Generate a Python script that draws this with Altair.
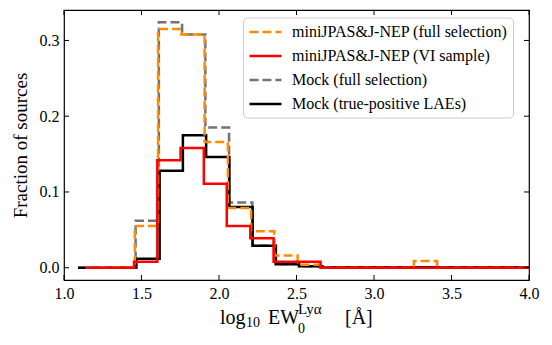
import altair as alt
import pandas as pd

# ---- data ----
series_names = [
    "miniJPAS&J-NEP (full selection)",
    "miniJPAS&J-NEP (VI sample)",
    "Mock (full selection)",
    "Mock (true-positive LAEs)",
]

# step edges (left edges + final right edge) and bin values
orange_edges = [1.14, 1.457, 1.607, 1.757, 1.907, 2.057, 2.207, 2.357, 2.507, 2.657, 3.257, 3.407, 4.0]
orange_vals = [0.0, 0.055, 0.315, 0.308, 0.166, 0.079, 0.048, 0.016, 0.004, 0.0, 0.009, 0.0]

red_edges = [1.14, 1.452, 1.602, 1.752, 1.902, 2.050, 2.202, 2.352, 2.655, 4.0]
red_vals = [0.0, 0.008, 0.142, 0.158, 0.111, 0.055, 0.039, 0.008, 0.0]

gray_edges = [1.09, 1.462, 1.612, 1.762, 1.912, 2.065, 2.215, 2.365, 2.515, 2.665, 4.0]
gray_vals = [0.0, 0.062, 0.324, 0.308, 0.185, 0.086, 0.029, 0.005, 0.002, 0.0005]

black_edges = [1.09, 1.467, 1.617, 1.767, 1.917, 2.067, 2.217, 2.367, 2.517, 2.667, 4.0]
black_vals = [0.0, 0.012, 0.128, 0.175, 0.146, 0.080, 0.029, 0.0045, 0.002, 0.0005]

x_ticks = [1.0, 1.5, 2.0, 2.5, 3.0, 3.5, 4.0]
y_ticks = [0.0, 0.1, 0.2, 0.3]

colors = ["#ff8c00", "#ff0000", "#737373", "#000000"]
dashes = [[9, 4], [1, 0], [9, 4], [1, 0]]

title_parts = ["log", "10", "EW", "0", "Lyα", "[Å]"]

W, H = 465, 270
FONT = "Liberation Serif"


def step_frame(name, edges, vals):
    xs = list(edges)
    ys = list(vals) + [vals[-1]]
    return pd.DataFrame({"x": xs, "y": ys, "series": name})


xscale = alt.Scale(domain=[1.0, 4.0], nice=False, zero=False)
yscale = alt.Scale(domain=[-0.0162, 0.3402], nice=False, zero=False)
cscale = alt.Scale(domain=series_names, range=colors)
dscale = alt.Scale(domain=series_names, range=dashes)

xaxis = alt.Axis(
    values=x_ticks, format=".1f", title=None, grid=False, ticks=False,
    domain=False, labelPadding=5, labelFlush=False, labelOverlap=False,
)
yaxis = alt.Axis(
    values=y_ticks, format=".1f", title="Fraction of sources", grid=False,
    ticks=False, domain=False, labelPadding=5, titlePadding=9,
)

legend = alt.Legend(title=None, orient="none", legendX=179, legendY=7.5)


def line_layer(df):
    return alt.Chart(df).mark_line(interpolate="step-after", strokeWidth=2.5, clip=True).encode(
        x=alt.X("x:Q", scale=xscale, axis=xaxis),
        y=alt.Y("y:Q", scale=yscale, axis=yaxis),
        color=alt.Color("series:N", scale=cscale, legend=legend),
        strokeDash=alt.StrokeDash("series:N", scale=dscale, legend=legend),
    )


gray = line_layer(step_frame(series_names[2], gray_edges, gray_vals))
black = line_layer(step_frame(series_names[3], black_edges, black_vals))
orange = line_layer(step_frame(series_names[0], orange_edges, orange_vals))
red = line_layer(step_frame(series_names[1], red_edges, red_vals))

xt = pd.DataFrame({"x": x_ticks})
yt = pd.DataFrame({"y": y_ticks})
tick_style = dict(color="black", strokeWidth=1)
xt_bottom = alt.Chart(xt).mark_rule(**tick_style).encode(
    x=alt.X("x:Q", scale=xscale, axis=xaxis), y=alt.value(H), y2=alt.value(H - 5))
xt_top = alt.Chart(xt).mark_rule(**tick_style).encode(
    x=alt.X("x:Q", scale=xscale, axis=xaxis), y=alt.value(0), y2=alt.value(5))
yt_left = alt.Chart(yt).mark_rule(**tick_style).encode(
    y=alt.Y("y:Q", scale=yscale, axis=yaxis), x=alt.value(0), x2=alt.value(5))
yt_right = alt.Chart(yt).mark_rule(**tick_style).encode(
    y=alt.Y("y:Q", scale=yscale, axis=yaxis), x=alt.value(W), x2=alt.value(W - 5))


def txt(s, px, py, size):
    return alt.Chart(pd.DataFrame({"t": [s]})).mark_text(
        font=FONT, fontSize=size, align="left", baseline="alphabetic", color="black"
    ).encode(text="t:N", x=alt.value(px), y=alt.value(py))


base_y = H + 44
title_layers = [
    txt(title_parts[0], 156, base_y, 20),
    txt(title_parts[1], 182, base_y + 3, 14),
    txt(title_parts[2], 204, base_y, 20),
    txt(title_parts[3], 234, base_y + 9, 14),
    txt(title_parts[4], 234, base_y - 10, 15),
    txt(title_parts[5], 281, base_y, 20),
]

chart = alt.layer(
    gray, black, orange, red, xt_bottom, xt_top, yt_left, yt_right, *title_layers
).properties(
    width=W, height=H,
    autosize=alt.AutoSizeParams(type="none"),
    padding={"left": 56, "top": 2, "right": 14, "bottom": 57},
    background="white",
).configure_view(
    stroke="black", strokeWidth=1.2
).configure_axis(
    labelFont=FONT, labelFontSize=16, labelColor="black",
    titleFont=FONT, titleFontSize=19, titleFontWeight="normal", titleColor="black",
).configure_legend(
    symbolType="M-1,0H3",
    symbolSize=256,
    symbolStrokeWidth=2.5,
    labelFont=FONT,
    labelFontSize=16,
    labelColor="black",
    labelOffset=25,
    rowPadding=6,
    padding=5,
    fillColor="white",
    strokeColor="#cccccc",
    cornerRadius=4,
    labelLimit=400,
)

chart.save("out.html", embed_options={"renderer": "svg", "actions": False})
